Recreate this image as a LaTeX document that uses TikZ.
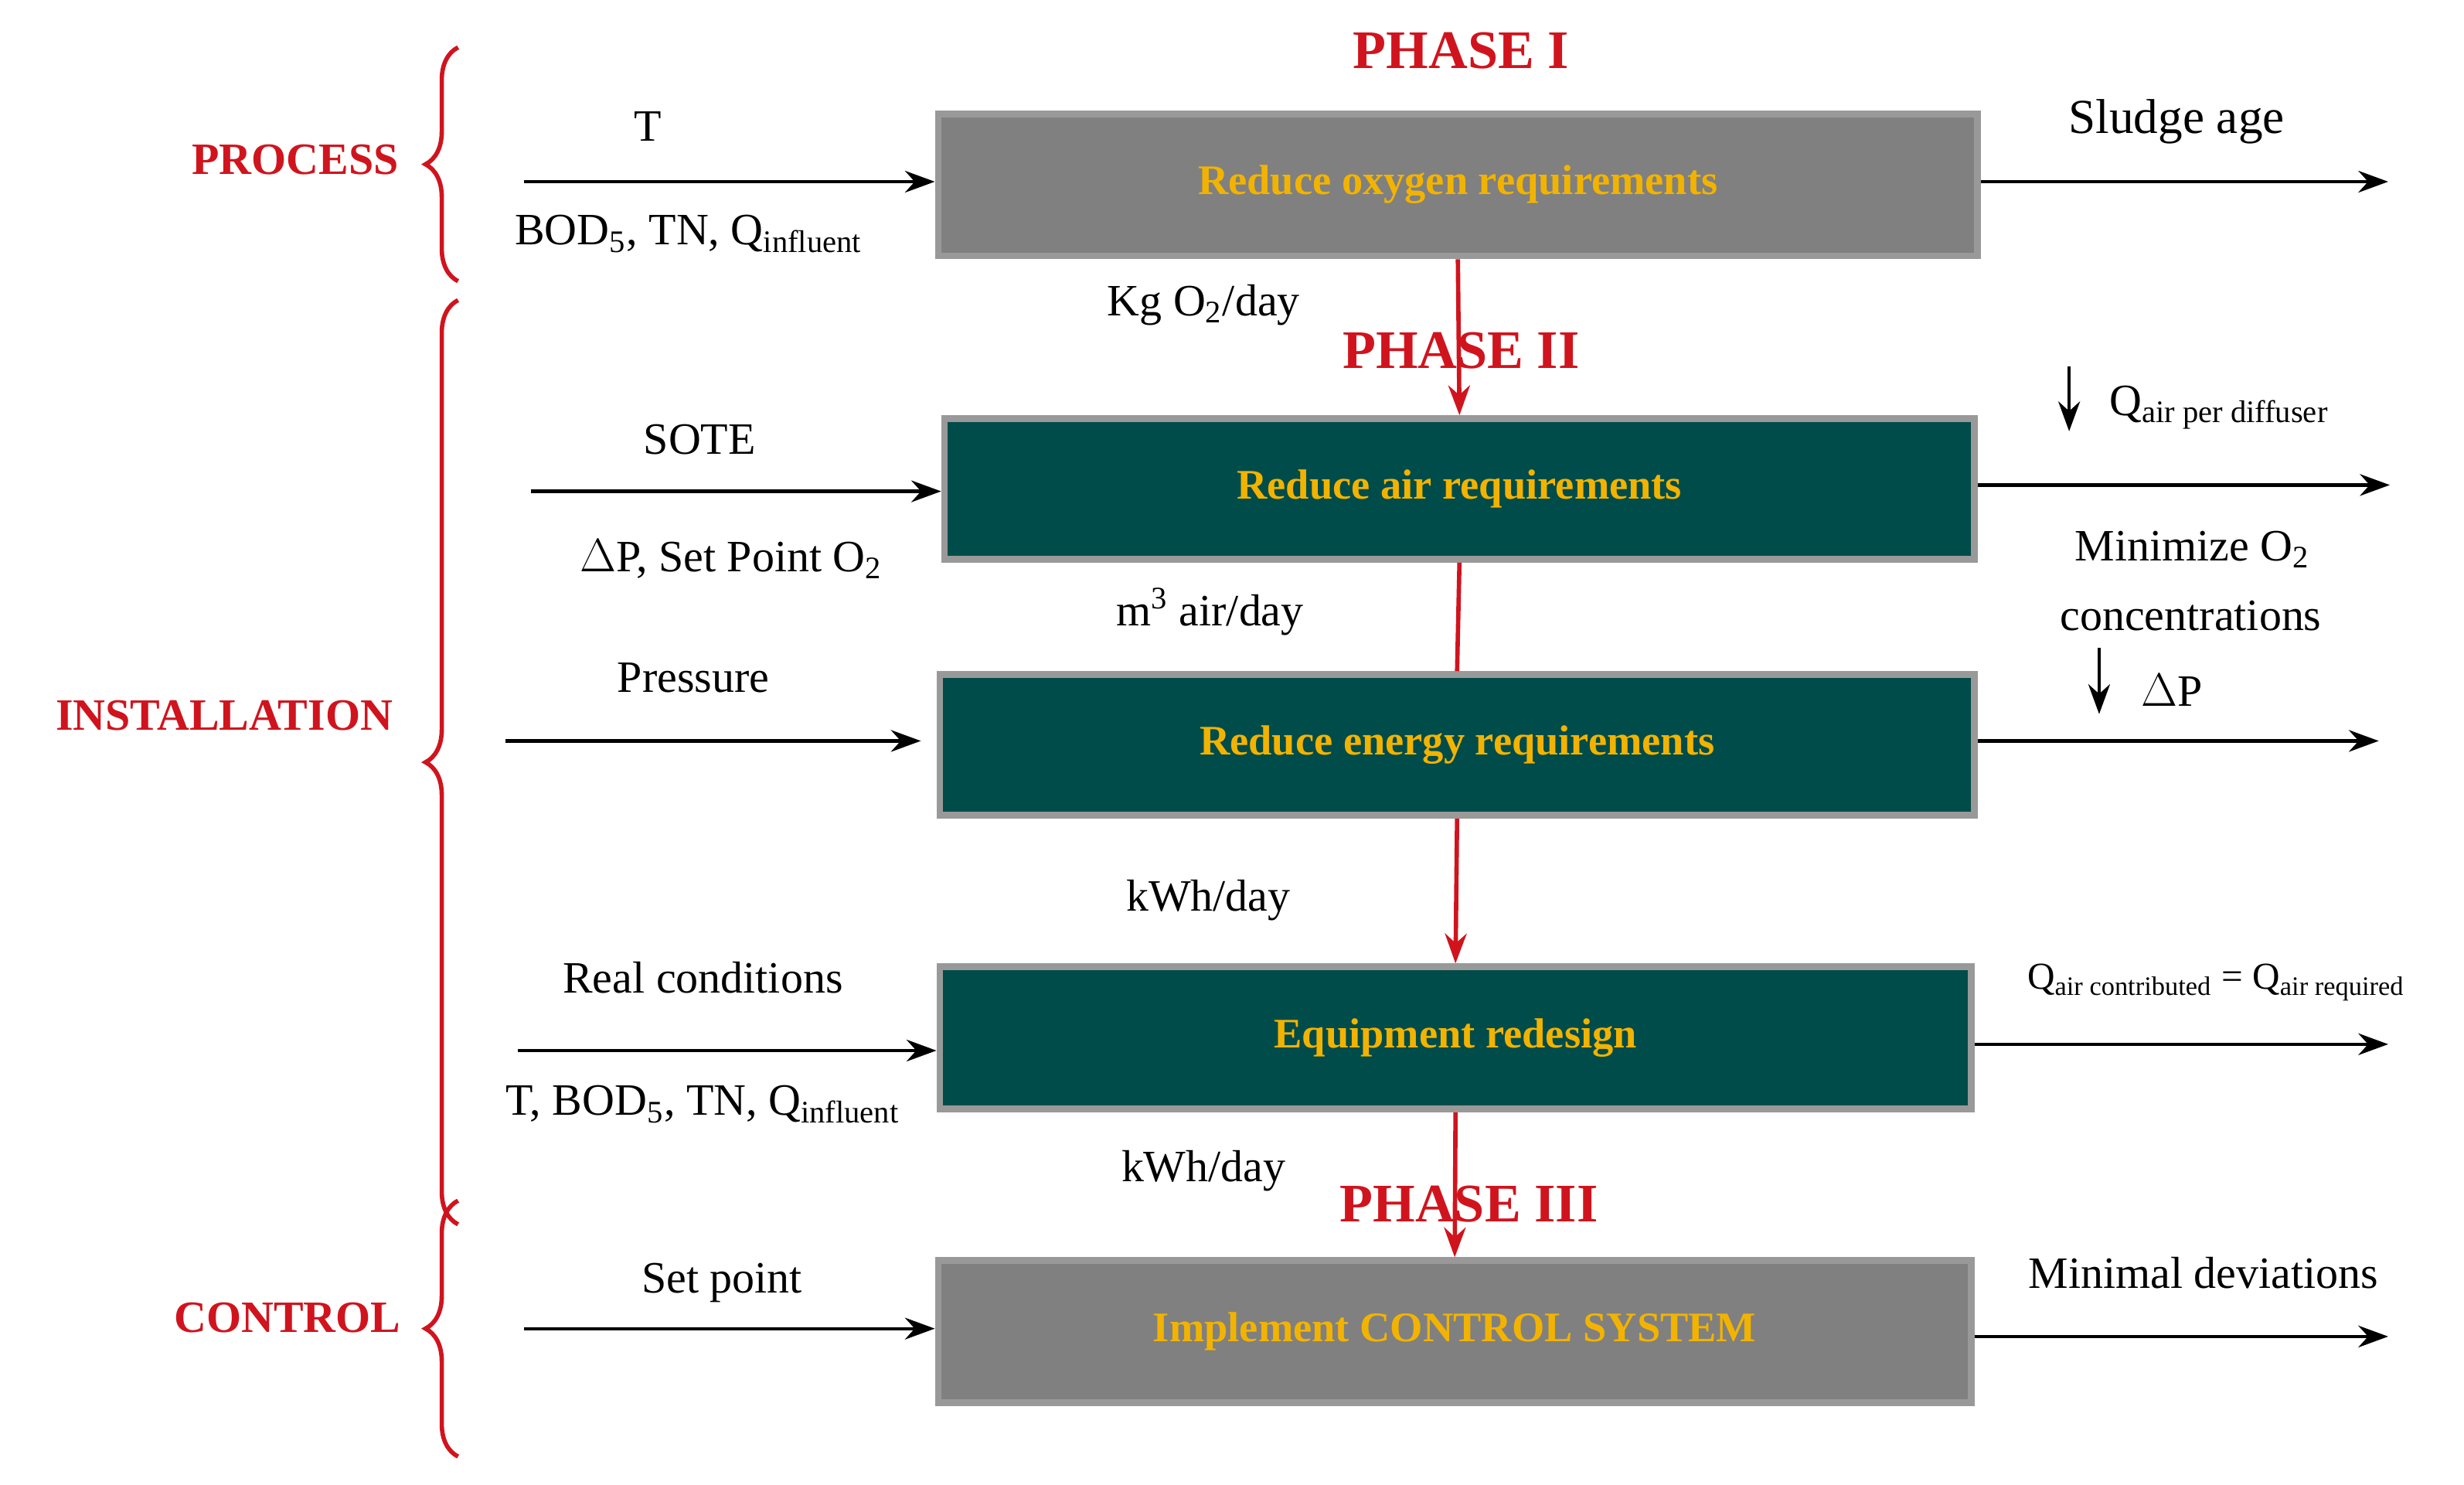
\documentclass[tikz,border=0pt]{standalone}
\usepackage{fontspec}
\setmainfont{Liberation Serif}
\usetikzlibrary{decorations.pathreplacing,arrows.meta}
\definecolor{boxgray}{HTML}{808080}
\definecolor{teal}{HTML}{004C4A}
\definecolor{orng}{HTML}{F2B300}
\definecolor{rd}{HTML}{D0141E}
\begin{document}
\begin{tikzpicture}[x=0.02044cm,y=-0.02044cm,
  box/.style={draw=gray!80,line width=2.5pt,font=\fontsize{15.5}{18}\selectfont\bfseries,text=orng},
  lab/.style={font=\fontsize{16.5}{19}\selectfont},
  phase/.style={font=\fontsize{20}{24}\selectfont\bfseries,text=rd},
  side/.style={font=\fontsize{16.5}{19}\selectfont\bfseries,text=rd},
  arr/.style={-{Stealth[length=11pt,width=8pt]},line width=1.2pt},
  rarr/.style={-{Stealth[length=11pt,width=8pt]},line width=1.6pt,draw=rd},
  brace/.style={draw=rd,line width=1.6pt,decorate,decoration={brace,amplitude=12pt}}]
\useasboundingbox (0,0) rectangle (1560,940);
\fill[white] (0,0) rectangle (1560,940);
% boxes
\node[box,fill=boxgray,minimum width=658*0.02044cm,minimum height=90*0.02044cm] (b1) at (923,117) {Reduce oxygen requirements};
\node[box,fill=teal,minimum width=652*0.02044cm,minimum height=89*0.02044cm] (b2) at (924,309.5) {Reduce air requirements};
\node[box,fill=teal,minimum width=655*0.02044cm,minimum height=89*0.02044cm] (b3) at (922.5,471.5) {Reduce energy requirements};
\node[box,fill=teal,minimum width=653*0.02044cm,minimum height=90*0.02044cm] (b4) at (921.5,657) {Equipment redesign};
\node[box,fill=boxgray,minimum width=654*0.02044cm,minimum height=90*0.02044cm] (b5) at (921,843) {Implement CONTROL SYSTEM};
% red connectors
\draw[rarr] (b1.south) -- (b2.north);
\draw[draw=rd,line width=1.6pt] (b2.south) -- (b3.north);
\draw[rarr] (b3.south) -- (b4.north);
\draw[rarr] (b4.south) -- (b5.north);
% phases
\node[phase] (p1) at (925,32) {PHASE I};
\node[phase] (p2) at (925,222) {PHASE II};
\node[phase] (p3) at (930,762) {PHASE III};
% mid labels
\node[lab] (m1) at (762,193) {Kg O\textsubscript{2}/day};
\node[lab] (m2) at (766,387) {m\textsuperscript{3} air/day};
\node[lab] (m3) at (765,570) {kWh/day};
\node[lab] (m4) at (762,741) {kWh/day};
% side braces and labels
\draw[brace] (290,178) -- (290,30);
\draw[brace] (290,775) -- (290,190);
\draw[brace] (290,922) -- (290,760);
\node[side] (s1) at (187,101) {PROCESS};
\node[side] (s2) at (142,453) {INSTALLATION};
\node[side] (s3) at (182,834) {CONTROL};
% inputs
\coordinate (i1) at (332,115); \coordinate (i2) at (336,311); \coordinate (i3) at (320,469);
\coordinate (i4) at (328,665); \coordinate (i5) at (332,841);
\draw[arr] (i1) -- (b1.west|-i1);
\draw[arr] (i2) -- (b2.west|-i2);
\draw[arr] (i3) -- (583,469);
\draw[arr] (i4) -- (b4.west|-i4);
\draw[arr] (i5) -- (b5.west|-i5);
\node[lab] (t1) at (410,80) {T};
\node[lab] (t1b) at (436,148) {BOD\textsubscript{5}, TN, Q\textsubscript{influent}};
\node[lab] (t2) at (443,278) {SOTE};
\node[lab] (t2b) at (463,354) {$\Delta$P, Set Point O\textsubscript{2}};
\node[lab] (t3) at (439,429) {Pressure};
\node[lab] (t4) at (445,619) {Real conditions};
\node[lab] (t4b) at (445,699) {T, BOD\textsubscript{5}, TN, Q\textsubscript{influent}};
\node[lab] (t5) at (457,812) {Set point};
% outputs
\coordinate (o1) at (1512,115); \coordinate (o2) at (1513,307); \coordinate (o3) at (1506,469);
\coordinate (o4) at (1512,661); \coordinate (o5) at (1512,846);
\draw[arr] (b1.east|-o1) -- (o1);
\draw[arr] (b2.east|-o2) -- (o2);
\draw[arr] (b3.east|-o3) -- (o3);
\draw[arr] (b4.east|-o4) -- (o4);
\draw[arr] (b5.east|-o5) -- (o5);
\node[lab,font=\fontsize{18}{21}\selectfont] (u1) at (1378,77) {Sludge age};
\coordinate (d1a) at (1310,232); \coordinate (d1b) at (1310,273);
\draw[arr] (d1a) -- (d1b);
\node[lab] (u2) at (1405,258) {Q\textsubscript{air per diffuser}};
\node[lab] (u2b) at (1388,348) {Minimize O\textsubscript{2}};
\node[lab] (u2c) at (1387,390) {concentrations};
\coordinate (d2a) at (1329,410); \coordinate (d2b) at (1329,452);
\draw[arr] (d2a) -- (d2b);
\node[lab] (u3) at (1375,437) {$\Delta$P};
\node[lab,font=\fontsize{14}{16}\selectfont] (u4) at (1403,622) {Q\textsubscript{air contributed} = Q\textsubscript{air required}};
\node[lab] (u5) at (1395,806) {Minimal deviations};
\end{tikzpicture}
\end{document}
